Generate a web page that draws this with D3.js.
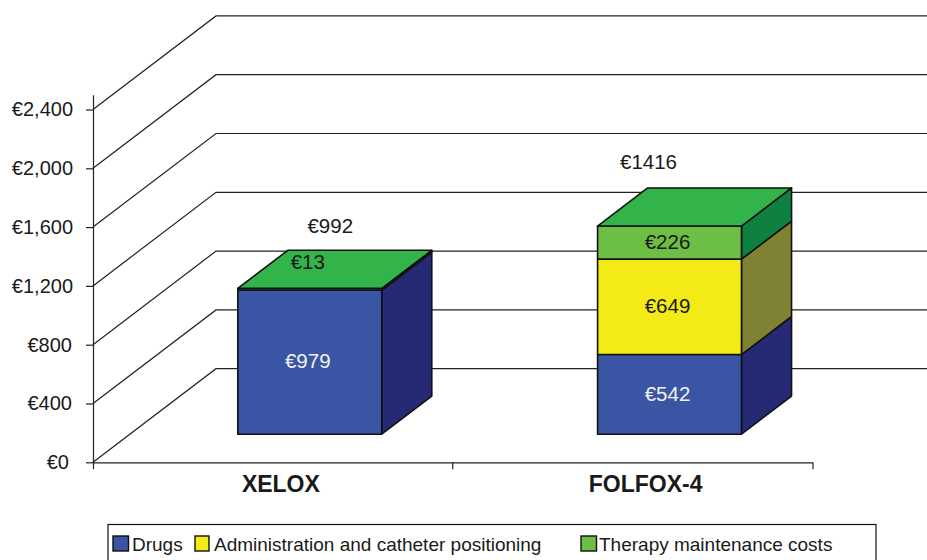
<!DOCTYPE html>
<html>
<head>
<meta charset="utf-8">
<script src="https://cdn.jsdelivr.net/npm/d3@7"></script>
<style>
  html, body { margin: 0; padding: 0; background: #fff; overflow: hidden; }
  text { font-family: "Liberation Sans", Arial, sans-serif; fill: #1a1a1a; }
</style>
</head>
<body>
<div id="chart"></div>
<script>
const categories = ['XELOX', 'FOLFOX-4'];
const seriesNames = ['Drugs', 'Administration and catheter positioning', 'Therapy maintenance costs'];
const drugs = [979, 542];
const administration = [0, 649];
const maintenance = [13, 226];
const totals = [992, 1416];
const yTicks = [0, 400, 800, 1200, 1600, 2000, 2400];

const frontColors = ['#3a55a4', '#f4eb16', '#6cbe45'];
const sideColors = ['#262a75', '#808233', '#0e8040'];
const topColor = '#32b44a';
const labelColors = ['#f2f2f2', '#1a1a1a', '#1a1a1a'];

const width = 927;
const height = 560;

const svg = d3.select('#chart').append('svg')
  .attr('width', width)
  .attr('height', height)
  .style('display', 'block');

const xScale = d3.scaleBand().domain(categories).range([93, 812.5]);
const yScale = d3.scaleLinear().domain([0, 2500]).range([462.3, 94.8]);
// depth goes from the front plane (0) to the back wall (1)
const depthX = d3.scaleLinear().domain([0, 1]).range([0, 123]);
const depthY = d3.scaleLinear().domain([0, 1]).range([0, -93.6]);

const barWidth = xScale.bandwidth() * 0.4;
const barDepth = [0.3, 0.707];

const px = (x, d) => x + depthX(d);
const py = (v, d) => yScale(v) + depthY(d);
const poly = pts => pts.map(p => p.join(',')).join(' ');

// gridlines: diagonal on the floor side, then along the back wall
const grid = svg.append('g');
yTicks.forEach(t => {
  grid.append('polyline')
    .attr('points', poly([
      [px(93, 0), py(t, 0)],
      [px(93, 1), py(t, 1)],
      [px(813, 1), py(t, 1)]
    ]))
    .attr('fill', 'none')
    .attr('stroke', '#222')
    .attr('stroke-width', 1.2);
});

// axes
const yAxis = svg.append('g')
  .attr('transform', 'translate(93,0)')
  .call(d3.axisLeft(yScale).tickValues(yTicks).tickSize(7).tickSizeOuter(0)
    .tickFormat(d => '€' + d3.format(',')(d)));
// labels are not quite right aligned in the original, shorter ones sit further in
yAxis.selectAll('text')
  .attr('font-size', 20)
  .attr('x', d => d === 0 ? -24 : d < 1000 ? -21 : -20)
  .attr('fill', '#1a1a1a')
  .style('font-family', '"Liberation Sans", Arial, sans-serif');

const xAxis = svg.append('g')
  .attr('transform', `translate(0,${yScale(0)})`)
  .call(d3.axisBottom(xScale).tickSize(0).tickSizeOuter(7));
xAxis.selectAll('text').attr('font-size', 23).attr('font-weight', 'bold').attr('y', 13).attr('fill', '#111')
  .attr('dx', (d, i) => [8, 13][i])
  .style('font-family', '"Liberation Sans", Arial, sans-serif');
// tick between the two groups
svg.append('line')
  .attr('x1', xScale(categories[1])).attr('x2', xScale(categories[1]))
  .attr('y1', yScale(0)).attr('y2', yScale(0) + 7)
  .attr('stroke', '#222').attr('stroke-width', 1.2);
svg.selectAll('.domain, .tick line').attr('stroke', '#222').attr('stroke-width', 1.2);

// bars
const stacks = d3.stack().keys([0, 1, 2]).value((d, k) => d[k])(
  categories.map((c, i) => [drugs[i], administration[i], maintenance[i]])
);

categories.forEach((cat, i) => {
  const x0 = xScale(cat) + (xScale.bandwidth() - barWidth) / 2;
  const x1 = x0 + barWidth;
  const g = svg.append('g');
  const [d0, d1] = barDepth;
  stacks.forEach((layer, k) => {
    const [lo, hi] = layer[i];
    if (hi === lo) return;
    g.append('polygon')
      .attr('points', poly([
        [px(x1, d0), py(lo, d0)], [px(x1, d1), py(lo, d1)],
        [px(x1, d1), py(hi, d1)], [px(x1, d0), py(hi, d0)]
      ]))
      .attr('fill', sideColors[k]);
    g.append('polygon')
      .attr('points', poly([
        [px(x0, d0), py(lo, d0)], [px(x1, d0), py(lo, d0)],
        [px(x1, d0), py(hi, d0)], [px(x0, d0), py(hi, d0)]
      ]))
      .attr('fill', frontColors[k]);
  });
  g.append('polygon')
    .attr('points', poly([
      [px(x0, d0), py(totals[i], d0)], [px(x1, d0), py(totals[i], d0)],
      [px(x1, d1), py(totals[i], d1)], [px(x0, d1), py(totals[i], d1)]
    ]))
    .attr('fill', topColor);
  g.selectAll('polygon')
    .attr('stroke', '#111')
    .attr('stroke-width', 1.6)
    .attr('stroke-linejoin', 'round');
});

// value labels
const barCenter = i => px(xScale(categories[i]) + xScale.bandwidth() / 2, barDepth[0]);
stacks.forEach((layer, k) => {
  categories.forEach((cat, i) => {
    const [lo, hi] = layer[i];
    if (hi === lo) return;
    const thin = hi - lo < 50;
    svg.append('text')
      .attr('x', barCenter(i) - 2)
      .attr('y', py((lo + hi) / 2, barDepth[0]) + (thin ? -28 : -1))
      .attr('dy', '0.35em')
      .attr('text-anchor', 'middle')
      .attr('font-size', 20.5)
      .style('fill', labelColors[k])
      .text('€' + [drugs, administration, maintenance][k][i]);
  });
});
// totals float above the bars, nudged as in the original
const totalNudge = [[20.5, -63], [-21, -64]];
totals.forEach((t, i) => {
  svg.append('text')
    .attr('x', barCenter(i) + totalNudge[i][0])
    .attr('y', py(t, barDepth[0]) + totalNudge[i][1])
    .attr('dy', '0.35em')
    .attr('text-anchor', 'middle')
    .attr('font-size', 20.5)
    .text('€' + t);
});

// legend, runs off the bottom of the picture
const legend = svg.append('g');
legend.append('rect')
  .attr('x', 108).attr('y', 524.5).attr('width', 768).attr('height', 60)
  .attr('fill', '#fff').attr('stroke', '#111').attr('stroke-width', 1.2);
const legendX = [113, 195, 581];
seriesNames.forEach((name, k) => {
  legend.append('rect')
    .attr('x', legendX[k]).attr('y', 536).attr('width', k === 1 ? 14 : 15.5).attr('height', 15)
    .attr('fill', frontColors[k]).attr('stroke', '#111').attr('stroke-width', 1.4);
  legend.append('text')
    .attr('x', legendX[k] + 19 - (k === 2 ? 1 : 0))
    .attr('y', 551)
    .attr('font-size', 19)
    .text(name);
});
</script>
</body>
</html>
